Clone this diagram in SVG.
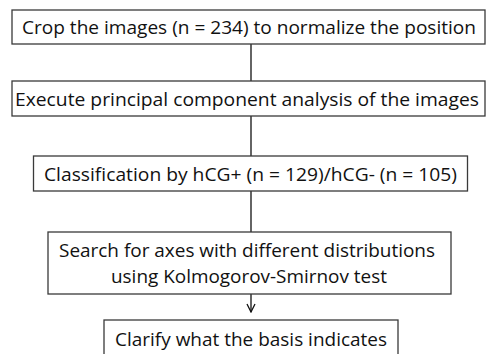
<svg xmlns="http://www.w3.org/2000/svg" width="486" height="354" viewBox="0 0 486 354">
<style>
.box{fill:#fff;stroke:#3a3a3a;stroke-width:1.3}
.t{font-family:"Open Sans","Liberation Sans",sans-serif;font-size:18.5px;fill:#111}
.c{stroke:#111;stroke-width:1.3;fill:none}
</style>
<defs>
<marker id="ah" viewBox="0 0 10 10" refX="9" refY="5" markerWidth="10" markerHeight="10" markerUnits="userSpaceOnUse" orient="auto">
<path d="M1,1 L9,5 L1,9" fill="none" stroke="#111" stroke-width="1.3"/>
</marker>
</defs>
<rect width="486" height="354" fill="#fff"/>
<g id="connectors">
<line class="c" x1="251" y1="44" x2="251" y2="81"/>
<line class="c" x1="251" y1="116" x2="251" y2="156"/>
<line class="c" x1="251" y1="191" x2="251" y2="232"/>
<line class="c" x1="251" y1="294" x2="251" y2="312" marker-end="url(#ah)"/>
</g>
<g id="n1">
<rect class="box" x="12" y="10" width="473" height="34"/>
<text class="t" x="22" y="34" textLength="454" lengthAdjust="spacingAndGlyphs">Crop the images (n = 234) to normalize the position</text>
</g>
<g id="n2">
<rect class="box" x="12" y="81" width="473" height="35"/>
<text class="t" x="15" y="106" textLength="464" lengthAdjust="spacingAndGlyphs">Execute principal component analysis of the images</text>
</g>
<g id="n3">
<rect class="box" x="33.5" y="156" width="434" height="35"/>
<text class="t" x="44" y="181" textLength="413" lengthAdjust="spacingAndGlyphs">Classification by hCG+ (n = 129)/hCG- (n = 105)</text>
</g>
<g id="n4">
<rect class="box" x="48" y="232" width="403" height="62"/>
<text class="t" x="59" y="257" textLength="376" lengthAdjust="spacingAndGlyphs">Search for axes with different distributions</text>
<text class="t" x="111" y="283" textLength="276" lengthAdjust="spacingAndGlyphs">using Kolmogorov-Smirnov test</text>
</g>
<g id="n5">
<rect class="box" x="104" y="320" width="294" height="45"/>
<text class="t" x="115" y="346" textLength="272" lengthAdjust="spacingAndGlyphs">Clarify what the basis indicates</text>
</g>
</svg>
